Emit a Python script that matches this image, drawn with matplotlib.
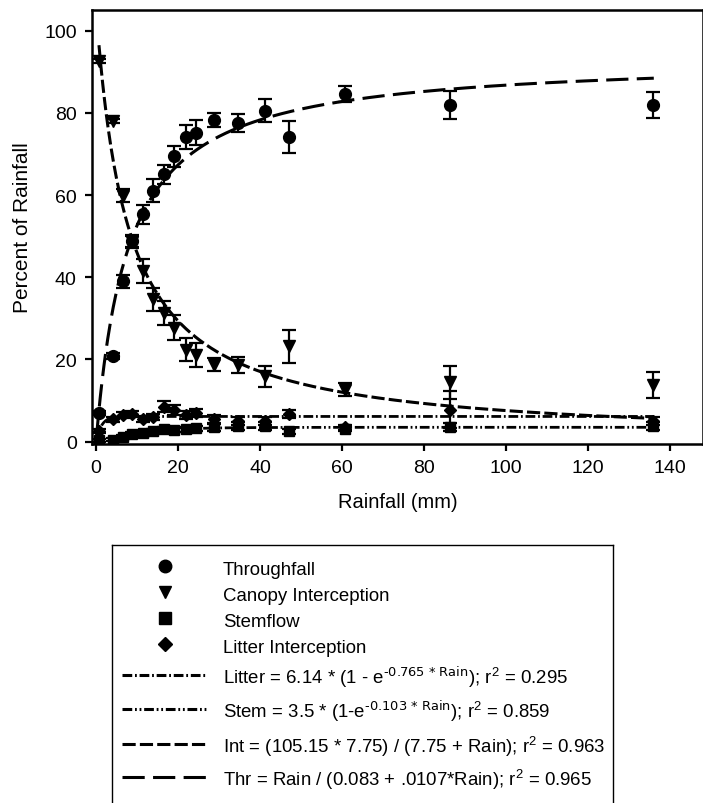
import numpy as np
import matplotlib
matplotlib.use("Agg")
import matplotlib.pyplot as plt
from matplotlib.lines import Line2D

plt.rcParams['font.family'] = ['Liberation Sans', 'DejaVu Sans']
plt.rcParams['mathtext.default'] = 'regular'
plt.rcParams['lines.scale_dashes'] = False

# rainfall events (mm)
rain = [0.6, 4.0, 6.5, 8.7, 11.5, 13.9, 16.6, 19.1, 21.9, 24.3, 28.7, 34.7, 41.1, 47.0, 60.6, 86.3, 135.7]

# percent of rainfall, mean and error
throughfall = [6.9, 20.9, 39.0, 48.8, 55.3, 61.0, 65.0, 69.4, 74.1, 75.2, 78.3, 77.5, 80.5, 74.1, 84.6, 81.9, 81.9]
throughfall_err = [0.5, 0.7, 1.6, 1.5, 2.3, 2.8, 2.4, 2.6, 2.9, 3.0, 1.7, 2.2, 2.8, 4.0, 2.0, 3.3, 3.2]
canopy = [92.7, 78.0, 59.8, 48.6, 41.5, 34.6, 31.3, 27.7, 22.4, 21.1, 18.7, 18.7, 15.9, 23.2, 12.6, 14.5, 13.8]
canopy_err = [0.5, 0.6, 1.6, 1.5, 3.0, 2.8, 2.8, 3.0, 2.8, 3.0, 1.6, 2.0, 2.6, 4.0, 1.6, 4.0, 3.2]
stemflow = [0.3, 0.5, 1.2, 1.8, 2.0, 2.5, 3.0, 2.8, 3.0, 3.3, 3.5, 3.8, 3.8, 2.5, 3.2, 3.6, 3.8]
stemflow_err = [0.3, 0.4, 0.5, 0.5, 0.5, 0.6, 0.6, 0.5, 0.6, 0.6, 0.8, 0.9, 0.9, 0.7, 0.5, 0.9, 0.9]
litter = [2.5, 5.5, 6.5, 6.8, 5.5, 6.0, 8.5, 7.8, 6.5, 7.0, 5.5, 5.0, 5.0, 6.8, 3.5, 7.8, 5.0]
litter_err = [0.5, 0.6, 0.7, 0.7, 0.8, 0.8, 1.3, 1.2, 1.0, 0.9, 1.0, 1.0, 1.0, 1.0, 0.6, 4.5, 1.0]

# fitted equations (from the legend)
def litter_fit(r):
    return 6.14 * (1 - np.exp(-0.765 * r))

def stem_fit(r):
    return 3.5 * (1 - np.exp(-0.103 * r))

def int_fit(r):
    return (105.15 * 7.75) / (7.75 + r)

def thr_fit(r):
    return r / (0.083 + 0.0107 * r)

fig = plt.figure(figsize=(7.03, 8.04), dpi=100)
ax = fig.add_axes([92 / 703, 1 - 445 / 804, 1 - 92 / 703, (445 - 11) / 804])

# fitted curves
r_thr = np.linspace(0.1, 136, 600)
r_int = np.linspace(0.7, 136, 600)
r_all = np.linspace(0.0, 136, 600)
ax.plot(r_all, litter_fit(r_all), color='k', lw=2, dashes=(7, 2, 1.3, 2), zorder=2)
ax.plot(r_all, stem_fit(r_all), color='k', lw=2, dashes=(7, 2, 1.3, 2, 1.3, 2), zorder=2)
ax.plot(r_int, int_fit(r_int), color='k', lw=2.2, dashes=(9.5, 3), zorder=2)
ax.plot(r_thr, thr_fit(r_thr), color='k', lw=2.2, dashes=(16, 6), zorder=2)

eb = dict(color='k', ls='none', elinewidth=1.6, capsize=5, capthick=1.6, zorder=3)
ax.errorbar(rain, stemflow, yerr=stemflow_err, marker='s', ms=7, **eb)
ax.errorbar(rain, litter, yerr=litter_err, marker='D', ms=6.5, **eb)
ax.errorbar(rain, canopy, yerr=canopy_err, marker='v', ms=9, **eb)
ax.errorbar(rain, throughfall, yerr=throughfall_err, marker='o', ms=8.5, **eb)

ax.set_xlim(-1, 148)
ax.set_ylim(-0.56, 105)
ax.set_xticks(range(0, 141, 20))
ax.set_yticks(range(0, 101, 20))
ax.tick_params(direction='out', length=5, width=1.6, labelsize=14, pad=6)
for s in ax.spines.values():
    s.set_linewidth(1.8)
ax.set_xlabel('Rainfall (mm)', fontsize=14.5, labelpad=11)
ax.set_ylabel('Percent of Rainfall', fontsize=15, labelpad=9)

# legend box (bottom edge runs off the figure)
lax = fig.add_axes([112 / 703, -0.05, (613 - 112) / 703, 1 - 546 / 804 + 0.05])
lax.set_xticks([])
lax.set_yticks([])
lax.patch.set_alpha(0)
for s in lax.spines.values():
    s.set_linewidth(1.0)

def fx(px):
    return px / 703

def fy(py):
    return 1 - py / 804

text_x = fx(223)
fs = 13.4
marker_rows = [('o', 9, 'Throughfall', 567), ('v', 9, 'Canopy Interception', 593),
               ('s', 8, 'Stemflow', 619), ('D', 7, 'Litter Interception', 645)]
for m, ms, lab, y in marker_rows:
    fig.add_artist(Line2D([fx(165)], [fy(y)], marker=m, ms=ms, color='k', ls='none',
                          transform=fig.transFigure))
    fig.text(text_x, fy(y + 8), lab, fontsize=fs, va='baseline')

line_rows = [((7, 2, 1.3, 2), 'Litter = 6.14 * (1 - e$^{\\text{-0.765 * Rain}}$); r$^2$ = 0.295', 676),
             ((7, 2, 1.3, 2, 1.3, 2), 'Stem = 3.5 * (1-e$^{\\text{-0.103 * Rain}}$); r$^2$ = 0.859', 710),
             ((9.5, 3), 'Int = (105.15 * 7.75) / (7.75 + Rain); r$^2$ = 0.963', 745),
             ((16, 6), 'Thr = Rain / (0.083 + .0107*Rain); r$^2$ = 0.965', 778)]
for d, lab, y in line_rows:
    fig.add_artist(Line2D([fx(122), fx(207)], [fy(y), fy(y)], color='k', lw=2.2, dashes=d,
                          transform=fig.transFigure))
    fig.text(text_x, fy(y + 8), lab, fontsize=fs, va='baseline')

fig.savefig('out.png', dpi=100)
